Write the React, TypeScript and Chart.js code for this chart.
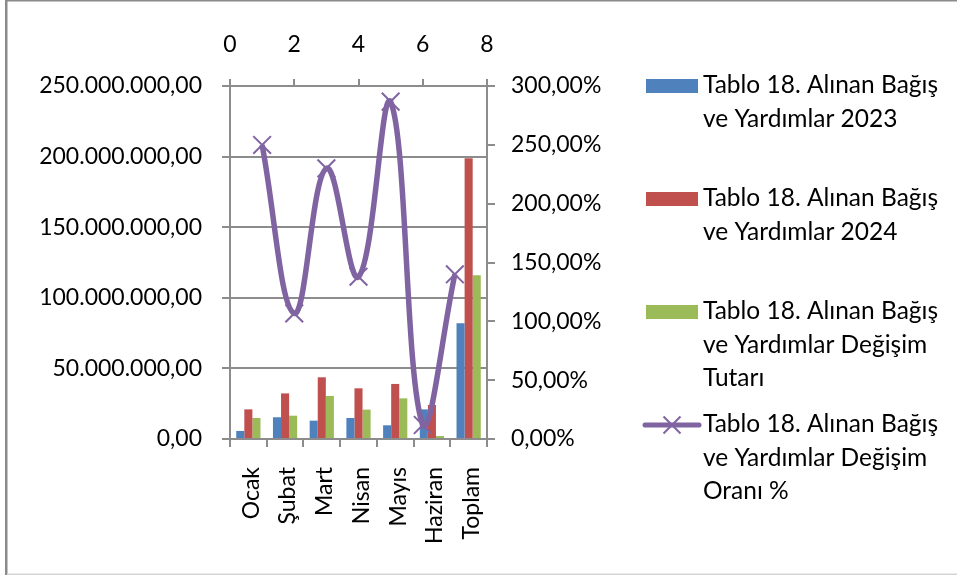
import React, { useEffect, useRef } from "react";
import { Chart, registerables, BarController } from "chart.js";

Chart.register(...registerables);

// Group bars only by their own index scale (the line lives on a separate top x-axis).
const barProto: any = BarController.prototype;
if (typeof barProto._getAxis === "function") {
  barProto._getAxis = function () {
    return [this._cachedMeta.iScale.id];
  };
}

const categories = ["Ocak", "Şubat", "Mart", "Nisan", "Mayıs", "Haziran", "Toplam"];
const values2023 = [5.7e6, 15.4e6, 13.0e6, 14.9e6, 9.7e6, 21.0e6, 82.0e6];
const values2024 = [21.0e6, 32.3e6, 43.7e6, 35.9e6, 39.0e6, 24.1e6, 198.8e6];
const changeAmount = [14.9e6, 16.5e6, 30.5e6, 20.8e6, 28.8e6, 2.1e6, 115.9e6];
const ratePositions = [1, 2, 3, 4, 5, 6, 7];
const changeRate = [249.9, 106.8, 230.0, 137.9, 286.7, 11.9, 140.0];

const seriesNames = [
  ["Tablo 18. Alınan Bağış", "ve Yardımlar 2023"],
  ["Tablo 18. Alınan Bağış", "ve Yardımlar 2024"],
  ["Tablo 18. Alınan Bağış", "ve Yardımlar Değişim", "Tutarı"],
  ["Tablo 18. Alınan Bağış", "ve Yardımlar Değişim", "Oranı %"],
];

const BLUE = "#4F81BD";
const RED = "#C0504D";
const GREEN = "#9BBB59";
const PURPLE = "#8064A2";
const GRID = "#8C8C8C";
const FONT_FAMILY = "Lato, 'Open Sans', sans-serif";
const FONT_SIZE = 23;
const LEGEND_FONT_SIZE = 24.5;

function fmtTR(v: number, dec = 2): string {
  const [i, f] = v.toFixed(dec).split(".");
  return i.replace(/\B(?=(\d{3})+(?!\d))/g, ".") + "," + f;
}

const framePlugin = {
  id: "frame",
  beforeDraw(chart: any) {
    const ctx = chart.ctx;
    ctx.save();
    ctx.fillStyle = "#ffffff";
    ctx.fillRect(0, 0, chart.width, chart.height);
    ctx.fillStyle = "#8a8a8a";
    ctx.fillRect(5, 0, 2.5, chart.height);
    ctx.fillRect(5, 0, chart.width - 5, 1.5);
    ctx.fillStyle = "#d4d4d4";
    ctx.fillRect(7, chart.height - 1.5, chart.width - 7, 1.5);
    ctx.restore();
  },
};

const legendPlugin = {
  id: "customLegend",
  afterDraw(chart: any) {
    const ctx = chart.ctx;
    const area = chart.chartArea;
    const x0 = area.right + 159;
    const textX = area.right + 216;
    const firstTop = 79;
    const step = 113;
    const lineH = 33.5;
    ctx.save();
    ctx.font = `${LEGEND_FONT_SIZE}px ${FONT_FAMILY}`;
    ctx.fillStyle = "#000";
    ctx.textAlign = "left";
    ctx.textBaseline = "alphabetic";
    seriesNames.forEach((lines, idx) => {
      const top = firstTop + idx * step;
      const ds = chart.data.datasets[idx];
      if (idx < 3) {
        ctx.fillStyle = ds.backgroundColor;
        ctx.fillRect(x0, top, 52, 14);
      } else {
        const cy = top + 7;
        ctx.strokeStyle = ds.borderColor;
        ctx.lineWidth = 5;
        ctx.lineCap = "round";
        ctx.beginPath();
        ctx.moveTo(x0 - 1, cy);
        ctx.lineTo(x0 + 53, cy);
        ctx.stroke();
        ctx.lineWidth = 2;
        ctx.lineCap = "butt";
        const cx = x0 + 26;
        const r = 8.5;
        ctx.beginPath();
        ctx.moveTo(cx - r, cy - r);
        ctx.lineTo(cx + r, cy + r);
        ctx.moveTo(cx + r, cy - r);
        ctx.lineTo(cx - r, cy + r);
        ctx.stroke();
      }
      ctx.fillStyle = "#000";
      lines.forEach((t, li) => {
        ctx.fillText(t, textX, top + 14 + li * lineH);
      });
    });
    ctx.restore();
  },
};

export default function App() {
  const ref = useRef<HTMLCanvasElement | null>(null);

  useEffect(() => {
    if (!ref.current) return;
    const font = { family: FONT_FAMILY, size: FONT_SIZE };
    const chart = new Chart(ref.current, {
      type: "bar",
      data: {
        labels: categories,
        datasets: [
          {
            type: "bar",
            label: seriesNames[0].join(" "),
            data: values2023,
            backgroundColor: BLUE,
            borderWidth: 0,
            xAxisID: "x",
            yAxisID: "y",
            order: 1,
          },
          {
            type: "bar",
            label: seriesNames[1].join(" "),
            data: values2024,
            backgroundColor: RED,
            borderWidth: 0,
            xAxisID: "x",
            yAxisID: "y",
            order: 1,
          },
          {
            type: "bar",
            label: seriesNames[2].join(" "),
            data: changeAmount,
            backgroundColor: GREEN,
            borderWidth: 0,
            xAxisID: "x",
            yAxisID: "y",
            order: 1,
          },
          {
            type: "line",
            label: seriesNames[3].join(" "),
            data: ratePositions.map((x, i) => ({ x, y: changeRate[i] })),
            borderColor: PURPLE,
            backgroundColor: PURPLE,
            borderWidth: 5.5,
            tension: 0.4,
            pointStyle: "crossRot",
            pointRadius: 12.5,
            pointBorderWidth: 2,
            pointBorderColor: PURPLE,
            xAxisID: "x2",
            yAxisID: "y2",
            order: 0,
            clip: false,
          } as any,
        ],
      },
      options: {
        responsive: false,
        animation: false,
        events: [],
        layout: { padding: { left: 0, right: 340, top: 0, bottom: 0 } },
        datasets: {
          bar: { categoryPercentage: 0.66, barPercentage: 1.0 },
        },
        plugins: {
          legend: { display: false },
          tooltip: { enabled: false },
          title: { display: false },
        },
        scales: {
          x: {
            type: "category",
            position: "bottom",
            offset: true,
            grid: {
              display: true,
              drawOnChartArea: false,
              offset: true,
              tickLength: 8,
              color: GRID,
              lineWidth: 2,
            },
            border: { color: GRID, width: 2 },
            ticks: {
              autoSkip: false,
              minRotation: 90,
              maxRotation: 90,
              padding: 20,
              labelOffset: 3,
              color: "#000",
              font,
            },
            afterFit: (s: any) => {
              s.height = 136;
            },
          },
          x2: {
            type: "linear",
            position: "top",
            min: 0,
            max: 8,
            offset: false,
            grid: {
              display: true,
              drawOnChartArea: false,
              offset: false,
              tickLength: 7,
              color: GRID,
              lineWidth: 2,
            },
            border: { color: GRID, width: 2 },
            ticks: { stepSize: 2, padding: 21, color: "#000", font },
            afterFit: (s: any) => {
              s.height = 86;
            },
          },
          y: {
            position: "left",
            min: 0,
            max: 250000000,
            grid: { color: GRID, lineWidth: 2, tickLength: 8 },
            border: { color: GRID, width: 2 },
            ticks: {
              stepSize: 50000000,
              padding: 20,
              color: "#000",
              font,
              callback: (v: any) => fmtTR(Number(v)),
            },
            afterFit: (s: any) => {
              s.width = 230;
            },
          },
          y2: {
            position: "right",
            min: 0,
            max: 300,
            grid: {
              display: true,
              drawOnChartArea: false,
              tickLength: 8,
              color: GRID,
              lineWidth: 2,
            },
            border: { color: GRID, width: 2 },
            ticks: {
              stepSize: 50,
              padding: 16,
              color: "#000",
              font,
              callback: (v: any) => fmtTR(Number(v)) + "%",
            },
            afterFit: (s: any) => {
              s.width = 130;
            },
          },
        },
      },
      plugins: [framePlugin, legendPlugin],
    } as any);
    return () => chart.destroy();
  }, []);

  return (
    <div style={{ position: "fixed", left: 0, top: 0, width: 957, height: 575 }}>
      <canvas ref={ref} width={957} height={575} style={{ display: "block", width: 957, height: 575 }} />
    </div>
  );
}
